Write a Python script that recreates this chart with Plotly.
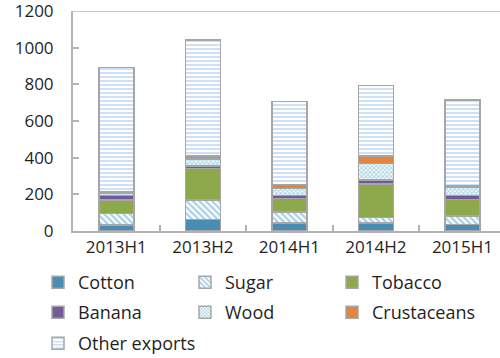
import plotly.graph_objects as go

categories = ["2013H1", "2013H2", "2014H1", "2014H2", "2015H1"]
cotton = [33, 64, 44, 44, 36]
sugar = [62, 105, 59, 31, 45]
tobacco = [74, 171, 73, 182, 91]
banana = [25, 15, 18, 20, 21]
wood = [12, 38, 38, 91, 48]
crustaceans = [10, 17, 21, 40, 5]
other_exports = [677, 633, 454, 385, 469]
y_ticks = [0, 200, 400, 600, 800, 1000, 1200]

FONT = "Open Sans"
TXT = "#1f1f1f"
EDGE = "#a6a6a6"
AX = "#b3b3b3"

series = [
    ("Cotton", cotton, dict(color="#4a8db3")),
    ("Sugar", sugar, dict(color="white", pattern=dict(shape="\\", fgcolor="#4fa3cc", bgcolor="white", size=4.5, solidity=0.5))),
    ("Tobacco", tobacco, dict(color="#8ea84c")),
    ("Banana", banana, dict(color="#74599a")),
    ("Wood", wood, dict(color="white", pattern=dict(shape="x", fgcolor="#4aa8c4", bgcolor="white", size=3, solidity=0.55))),
    ("Crustaceans", crustaceans, dict(color="#e2853e")),
    ("Other exports", other_exports, dict(color="white", pattern=dict(shape="-", fgcolor="#8ab4e6", bgcolor="white", size=4, solidity=0.42))),
]

# legend slot positions (container fractions): 3 columns x 3 rows
col_x = [0.076, 0.370, 0.664]
row_y = [0.2107, 0.1269, 0.0403]

fig = go.Figure()
layout_legends = {}
for i, (name, vals, mk) in enumerate(series):
    mk = dict(mk)
    mk["line"] = dict(color=EDGE, width=1.5)
    key = "legend" if i == 0 else f"legend{i + 1}"
    fig.add_trace(go.Bar(x=categories, y=vals, name=name, marker=mk, width=0.405,
                         legend=key, showlegend=True))
    layout_legends[key] = dict(
        orientation="h", xref="container", yref="container",
        x=col_x[i % 3], y=row_y[i // 3], xanchor="left", yanchor="middle",
        font=dict(family=FONT, size=18, color=TXT), bgcolor="rgba(0,0,0,0)",
        itemclick=False, itemdoubleclick=False,
    )

fig.update_layout(
    width=500, height=358,
    margin=dict(l=73, r=0, t=11, b=127, autoexpand=False),
    barmode="stack",
    showlegend=True,
    plot_bgcolor="white", paper_bgcolor="white",
    font=dict(family=FONT, size=17, color=TXT),
    xaxis=dict(
        type="category", range=[-0.5, 4.434], tickson="boundaries",
        ticks="inside", ticklen=6, tickcolor=AX, tickwidth=2,
        showline=True, linecolor=AX, linewidth=2, automargin=False,
        showgrid=False, tickfont=dict(family=FONT, size=17, color=TXT),
    ),
    yaxis=dict(
        range=[0, 1200], tickvals=y_ticks, ticks="inside", ticklen=6,
        tickcolor=AX, tickwidth=2, showline=True, linecolor=AX, linewidth=2,
        showgrid=False, zeroline=False, ticklabelstandoff=14, automargin=False,
        ticklabeloverflow="allow",
        tickfont=dict(family=FONT, size=17, color=TXT),
    ),
    shapes=[dict(type="line", xref="paper", yref="y", x0=0, x1=1, y0=1200, y1=1200,
                 line=dict(color="#c8c8c8", width=2), layer="above")],
    **layout_legends,
)

fig.write_html("out.html")
